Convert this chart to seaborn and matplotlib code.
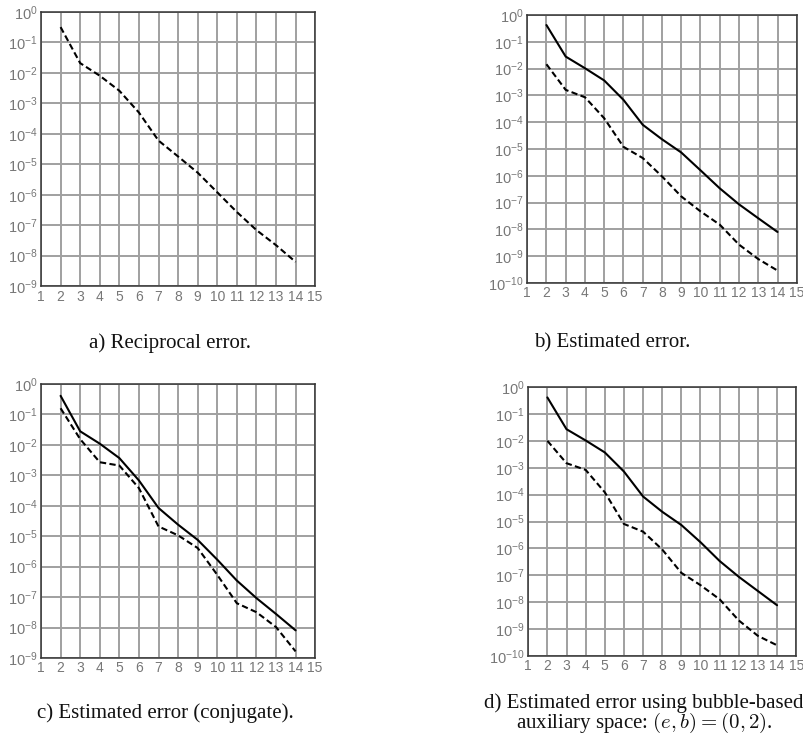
import numpy as np
import pandas as pd
import matplotlib
matplotlib.use("Agg")
import matplotlib.pyplot as plt
import seaborn as sns
from matplotlib.ticker import FixedLocator, LogLocator, NullLocator

sns.set_style("white")
plt.rcParams['font.family'] = ['Liberation Sans', 'DejaVu Sans']

# polynomial degree
degree = list(range(2, 15))

# a) reciprocal error
recip_a = [0.32, 0.021, 8.1e-3, 2.6e-3, 5e-4, 6e-5, 1.8e-5, 5.3e-6,
           1.2e-6, 2.7e-7, 6.9e-8, 2.2e-8, 6.2e-9]

# b) estimated error
true_b = [0.42, 0.028, 0.0103, 3.6e-3, 6.8e-4, 8e-5, 2.3e-5, 7.4e-6,
          1.6e-6, 3.4e-7, 8.6e-8, 2.6e-8, 8e-9]
est_b = [0.0145, 1.6e-3, 8.5e-4, 1.4e-4, 1.2e-5, 4.6e-6, 9.5e-7, 1.7e-7,
         4.7e-8, 1.5e-8, 2.7e-9, 7.8e-10, 2.9e-10]

# c) estimated error (conjugate)
true_c = [0.41, 0.028, 0.011, 3.7e-3, 6.8e-4, 8.5e-5, 2.4e-5, 7.6e-6,
          1.7e-6, 3.5e-7, 9.3e-8, 2.8e-8, 8.1e-9]
est_c = [0.16, 0.0155, 2.7e-3, 2.1e-3, 3.8e-4, 2.1e-5, 1.07e-5, 4.1e-6,
         5.4e-7, 6.3e-8, 3.2e-8, 1.04e-8, 1.65e-9]

# d) bubble-based auxiliary space
true_d = [0.41, 0.027, 0.0103, 3.7e-3, 7.2e-4, 8.5e-5, 2.3e-5, 7.4e-6,
          1.7e-6, 3.4e-7, 8.8e-8, 2.6e-8, 7.7e-9]
est_d = [0.01, 1.47e-3, 8.3e-4, 1.22e-4, 8.1e-6, 4.2e-6, 9.1e-7, 1.23e-7,
         4.3e-8, 1.28e-8, 2.1e-9, 5.6e-10, 2.5e-10]

x_ticks = list(range(1, 16))

GRID = '#a0a0a0'
TICK = '#777777'


def style_axis(ax, ymin_exp):
    ax.set_yscale('log')
    ax.set_xlim(1, 15)
    ax.set_ylim(10.0 ** ymin_exp, 1)
    ax.xaxis.set_major_locator(FixedLocator(x_ticks))
    ax.yaxis.set_major_locator(LogLocator(base=10, numticks=20))
    ax.yaxis.set_minor_locator(NullLocator())
    ax.grid(True, which='major', color=GRID, linewidth=1.4)
    ax.set_axisbelow(True)
    ax.tick_params(length=0, pad=2.5, labelsize=10.5, labelcolor=TICK)
    ax.tick_params(axis='x', labelsize=10)
    for s in ax.spines.values():
        s.set_color('#333333')
        s.set_linewidth(1.1)
    ax.set_xlabel('')
    ax.set_ylabel('')


def draw(ax, series, ymin_exp):
    for vals, ls in series:
        df = pd.DataFrame({'degree': degree, 'error': vals})
        sns.lineplot(data=df, x='degree', y='error', ax=ax, color='black',
                     linewidth=1.5, linestyle=ls)
    style_axis(ax, ymin_exp)


fig = plt.figure(figsize=(8.04, 7.48), dpi=100)
dash = (0, (3.0, 1.6))

ax_a = fig.add_axes([0.051, 0.6176, 0.341, 0.3663])
draw(ax_a, [(recip_a, dash)], -9)

ax_b = fig.add_axes([0.6557, 0.6217, 0.3353, 0.3583])
draw(ax_b, [(true_b, '-'), (est_b, dash)], -10)

ax_c = fig.add_axes([0.051, 0.1203, 0.341, 0.3663])
draw(ax_c, [(true_c, '-'), (est_c, dash)], -9)

ax_d = fig.add_axes([0.657, 0.123, 0.3333, 0.3596])
draw(ax_d, [(true_d, '-'), (est_d, dash)], -10)

cap = dict(family='Liberation Serif', size=15, ha='center', va='center',
           color='#111111')
fig.text(170 / 804, 1 - 343 / 748, 'a) Reciprocal error.', **cap)
fig.text(612 / 804, 1 - 343 / 748, 'b) Estimated error.', **cap)
fig.text(165 / 804, 1 - 713 / 748, 'c) Estimated error (conjugate).', **cap)
fig.text(644 / 804, 1 - 714 / 748,
         'd) Estimated error using bubble-based\n'
         r'auxiliary space: $(e, b) = (0, 2)$.',
         math_fontfamily='cm', linespacing=0.85, **cap)

fig.savefig('out.png', dpi=100)
